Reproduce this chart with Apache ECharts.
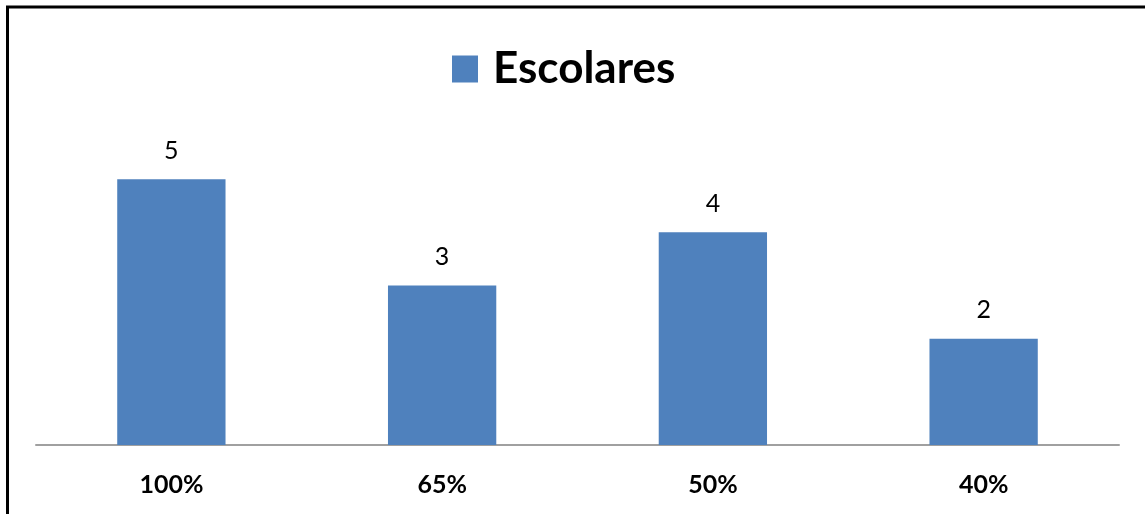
<!DOCTYPE html>
<html>
<head>
<meta charset="utf-8">
<script src="https://cdn.jsdelivr.net/npm/echarts@6/dist/echarts.min.js"></script>
<style>
html,body{margin:0;padding:0;background:#fff;}
#c{width:1145px;height:514px;}
</style>
</head>
<body>
<div id="c"></div>
<script>
const categories = ['100%', '65%', '50%', '40%'];
const seriesName = 'Escolares';
const values = [5, 3, 4, 2];

const chart = echarts.init(document.getElementById('c'));
chart.setOption({
  animation: false,
  backgroundColor: '#fff',
  graphic: [
    { type: 'line', shape: { x1: 7.5, y1: 7, x2: 7.5, y2: 514 }, style: { stroke: '#000', lineWidth: 3 } },
    { type: 'line', shape: { x1: 6, y1: 7, x2: 1145, y2: 7 }, style: { stroke: '#000', lineWidth: 3 } }
  ],
  legend: {
    data: [seriesName],
    top: 42,
    left: 447,
    itemWidth: 26,
    itemHeight: 27,
    itemGap: 15,
    icon: 'rect',
    textStyle: { fontFamily: 'Lato', fontWeight: 'bold', fontSize: 44, color: '#000', padding: [0, 0, 0, 10] }
  },
  grid: { left: 36, right: 26, top: 126, bottom: 69, containLabel: false },
  xAxis: {
    type: 'category',
    data: categories,
    axisLine: { show: true, lineStyle: { color: '#a0a0a0', width: 2 } },
    axisTick: { show: false },
    axisLabel: { fontFamily: 'Lato', fontWeight: 'bold', fontSize: 25, color: '#000', margin: 27 }
  },
  yAxis: {
    type: 'value',
    min: 0, max: 6, interval: 1,
    show: false,
    splitLine: { show: false }
  },
  series: [{
    name: seriesName,
    type: 'bar',
    data: values,
    barCategoryGap: '60%',
    itemStyle: { color: '#4f81bd' },
    label: { show: true, position: 'top', distance: 16, fontFamily: 'Lato', fontSize: 25, color: '#000' }
  }]
});
</script>
</body>
</html>
